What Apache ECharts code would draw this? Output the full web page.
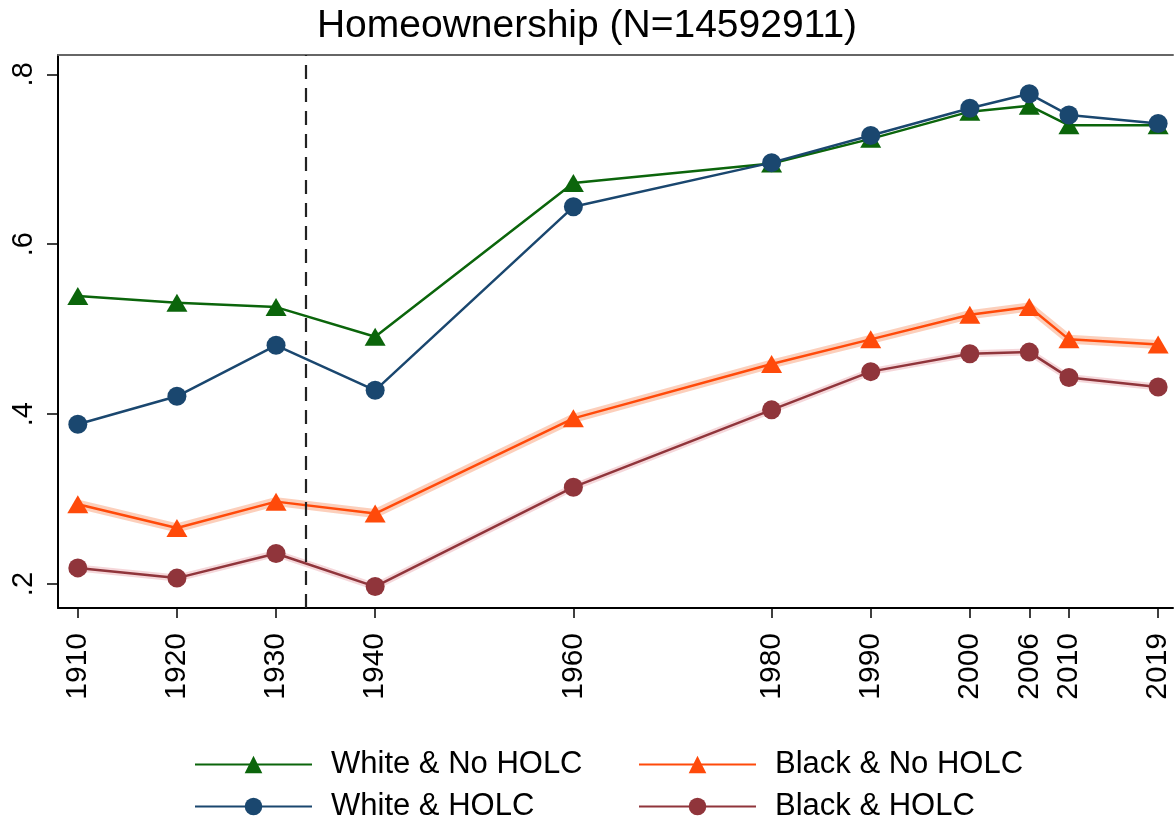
<!DOCTYPE html>
<html>
<head>
<meta charset="utf-8">
<script src="https://cdn.jsdelivr.net/npm/echarts@6/dist/echarts.min.js"></script>
<style>
html,body{margin:0;padding:0;background:#fff;}
#chart{width:1174px;height:822px;}
</style>
</head>
<body>
<div id="chart"></div>
<script>
// ---- data ----
var YEARS = [1910, 1920, 1930, 1940, 1960, 1980, 1990, 2000, 2006, 2010, 2019];
var X_TICKS = [1910, 1920, 1930, 1940, 1960, 1980, 1990, 2000, 2006, 2010, 2019];
var Y_TICKS = [0.2, 0.4, 0.6, 0.8];
var DASH_YEAR = 1933;
var TITLE = 'Homeownership (N=14592911)';

var whiteNoHolc = [0.539, 0.531, 0.526, 0.491, 0.672, 0.695, 0.724, 0.756, 0.763, 0.740, 0.740];
var whiteHolc   = [0.388, 0.421, 0.481, 0.428, 0.644, 0.696, 0.728, 0.760, 0.777, 0.752, 0.742];
var blackNoHolc = [0.294, 0.266, 0.297, 0.283, 0.395, 0.459, 0.488, 0.517, 0.526, 0.488, 0.482];
var blackHolc   = [0.219, 0.207, 0.236, 0.197, 0.314, 0.405, 0.450, 0.471, 0.473, 0.443, 0.432];

var NAMES = ['White & No HOLC', 'White & HOLC', 'Black & No HOLC', 'Black & HOLC'];

function pairs(vals) { return YEARS.map(function (y, i) { return [y, vals[i]]; }); }

var FONT = 'Liberation Sans, Arial, sans-serif';
var C_GREEN = '#0b650b', C_NAVY = '#1a476f', C_ORANGE = '#ff4a0a', C_MAROON = '#90353b';

var chart = echarts.init(document.getElementById('chart'), null, {renderer: 'canvas'});

function mainSeries(name, vals, color, symbol, size, z) {
  return {
    name: name, type: 'line', data: pairs(vals), z: z,
    symbol: symbol, symbolSize: size, showSymbol: true,
    lineStyle: {color: color, width: 2.5},
    itemStyle: {color: color, borderColor: color, borderWidth: 0},
    emphasis: {disabled: true}, animation: false
  };
}
function bandSeries(name, vals, color, width) {
  return {
    name: name, type: 'line', data: pairs(vals), z: 1,
    symbol: 'none', lineStyle: {color: color, width: width},
    emphasis: {disabled: true}, animation: false, silent: true
  };
}
function legendItem(name, left, top) {
  return {
    data: [name], orient: 'horizontal', left: left, top: top, padding: 0,
    itemWidth: 117, itemHeight: 22,
    textStyle: {fontFamily: FONT, fontSize: 31, color: '#000', padding: [0, 0, 0, 14]},
    selectedMode: false
  };
}

var TRI = [21, 18];
var CIRC = 19;

var option = {
  backgroundColor: '#ffffff',
  animation: false,
  title: {
    text: TITLE, left: 'center', top: 2,
    textStyle: {fontFamily: FONT, fontSize: 39, fontWeight: 'normal', color: '#000'}
  },
  grid: {left: 58, right: 1, top: 55, bottom: 214, containLabel: false, outerBoundsMode: 'none'},
  legend: [
    legendItem(NAMES[0], 194, 749),
    legendItem(NAMES[1], 194, 791),
    legendItem(NAMES[2], 638, 749),
    legendItem(NAMES[3], 638, 791)
  ],
  xAxis: [
    {
      type: 'value', min: 1908, max: 2020.5, position: 'bottom',
      axisLine: {show: true, onZero: false, lineStyle: {color: '#000', width: 2}},
      axisTick: {show: true, length: 10, lineStyle: {color: '#000', width: 1.5}, customValues: X_TICKS},
      axisLabel: {show: true, rotate: 90, margin: 25, customValues: X_TICKS,
        fontFamily: FONT, fontSize: 30, color: '#000', formatter: function (v) { return String(v); }},
      splitLine: {show: false}
    },
    {
      type: 'value', min: 1908, max: 2020.5, position: 'top',
      axisLine: {show: true, onZero: false, lineStyle: {color: '#666', width: 2}},
      axisTick: {show: false}, axisLabel: {show: false}, splitLine: {show: false}
    }
  ],
  yAxis: {
    type: 'value', min: 0.1718, max: 0.8227,
    axisLine: {show: true, onZero: false, lineStyle: {color: '#000', width: 2}},
    axisTick: {show: true, length: 11, lineStyle: {color: '#000', width: 1.5}, customValues: Y_TICKS},
    axisLabel: {show: true, rotate: 90, margin: 20, customValues: Y_TICKS,
      fontFamily: FONT, fontSize: 29, color: '#000',
      formatter: function (v) { return '.' + Math.round(v * 10); }},
    splitLine: {show: false}
  },
  series: [
    bandSeries('band-bn', blackNoHolc, 'rgba(250,160,120,0.5)', 9),
    bandSeries('band-bh', blackHolc, 'rgba(225,140,150,0.35)', 7),
    mainSeries(NAMES[3], blackHolc, C_MAROON, 'circle', CIRC, 3),
    mainSeries(NAMES[2], blackNoHolc, C_ORANGE, 'triangle', TRI, 4),
    mainSeries(NAMES[0], whiteNoHolc, C_GREEN, 'triangle', TRI, 5),
    Object.assign(mainSeries(NAMES[1], whiteHolc, C_NAVY, 'circle', CIRC, 6), {
      markLine: {
        silent: true, symbol: ['none', 'none'], label: {show: false},
        lineStyle: {color: '#222', type: [14, 9], width: 2.2},
        data: [{xAxis: DASH_YEAR}], animation: false
      }
    })
  ]
};
chart.setOption(option);
</script>
</body>
</html>
